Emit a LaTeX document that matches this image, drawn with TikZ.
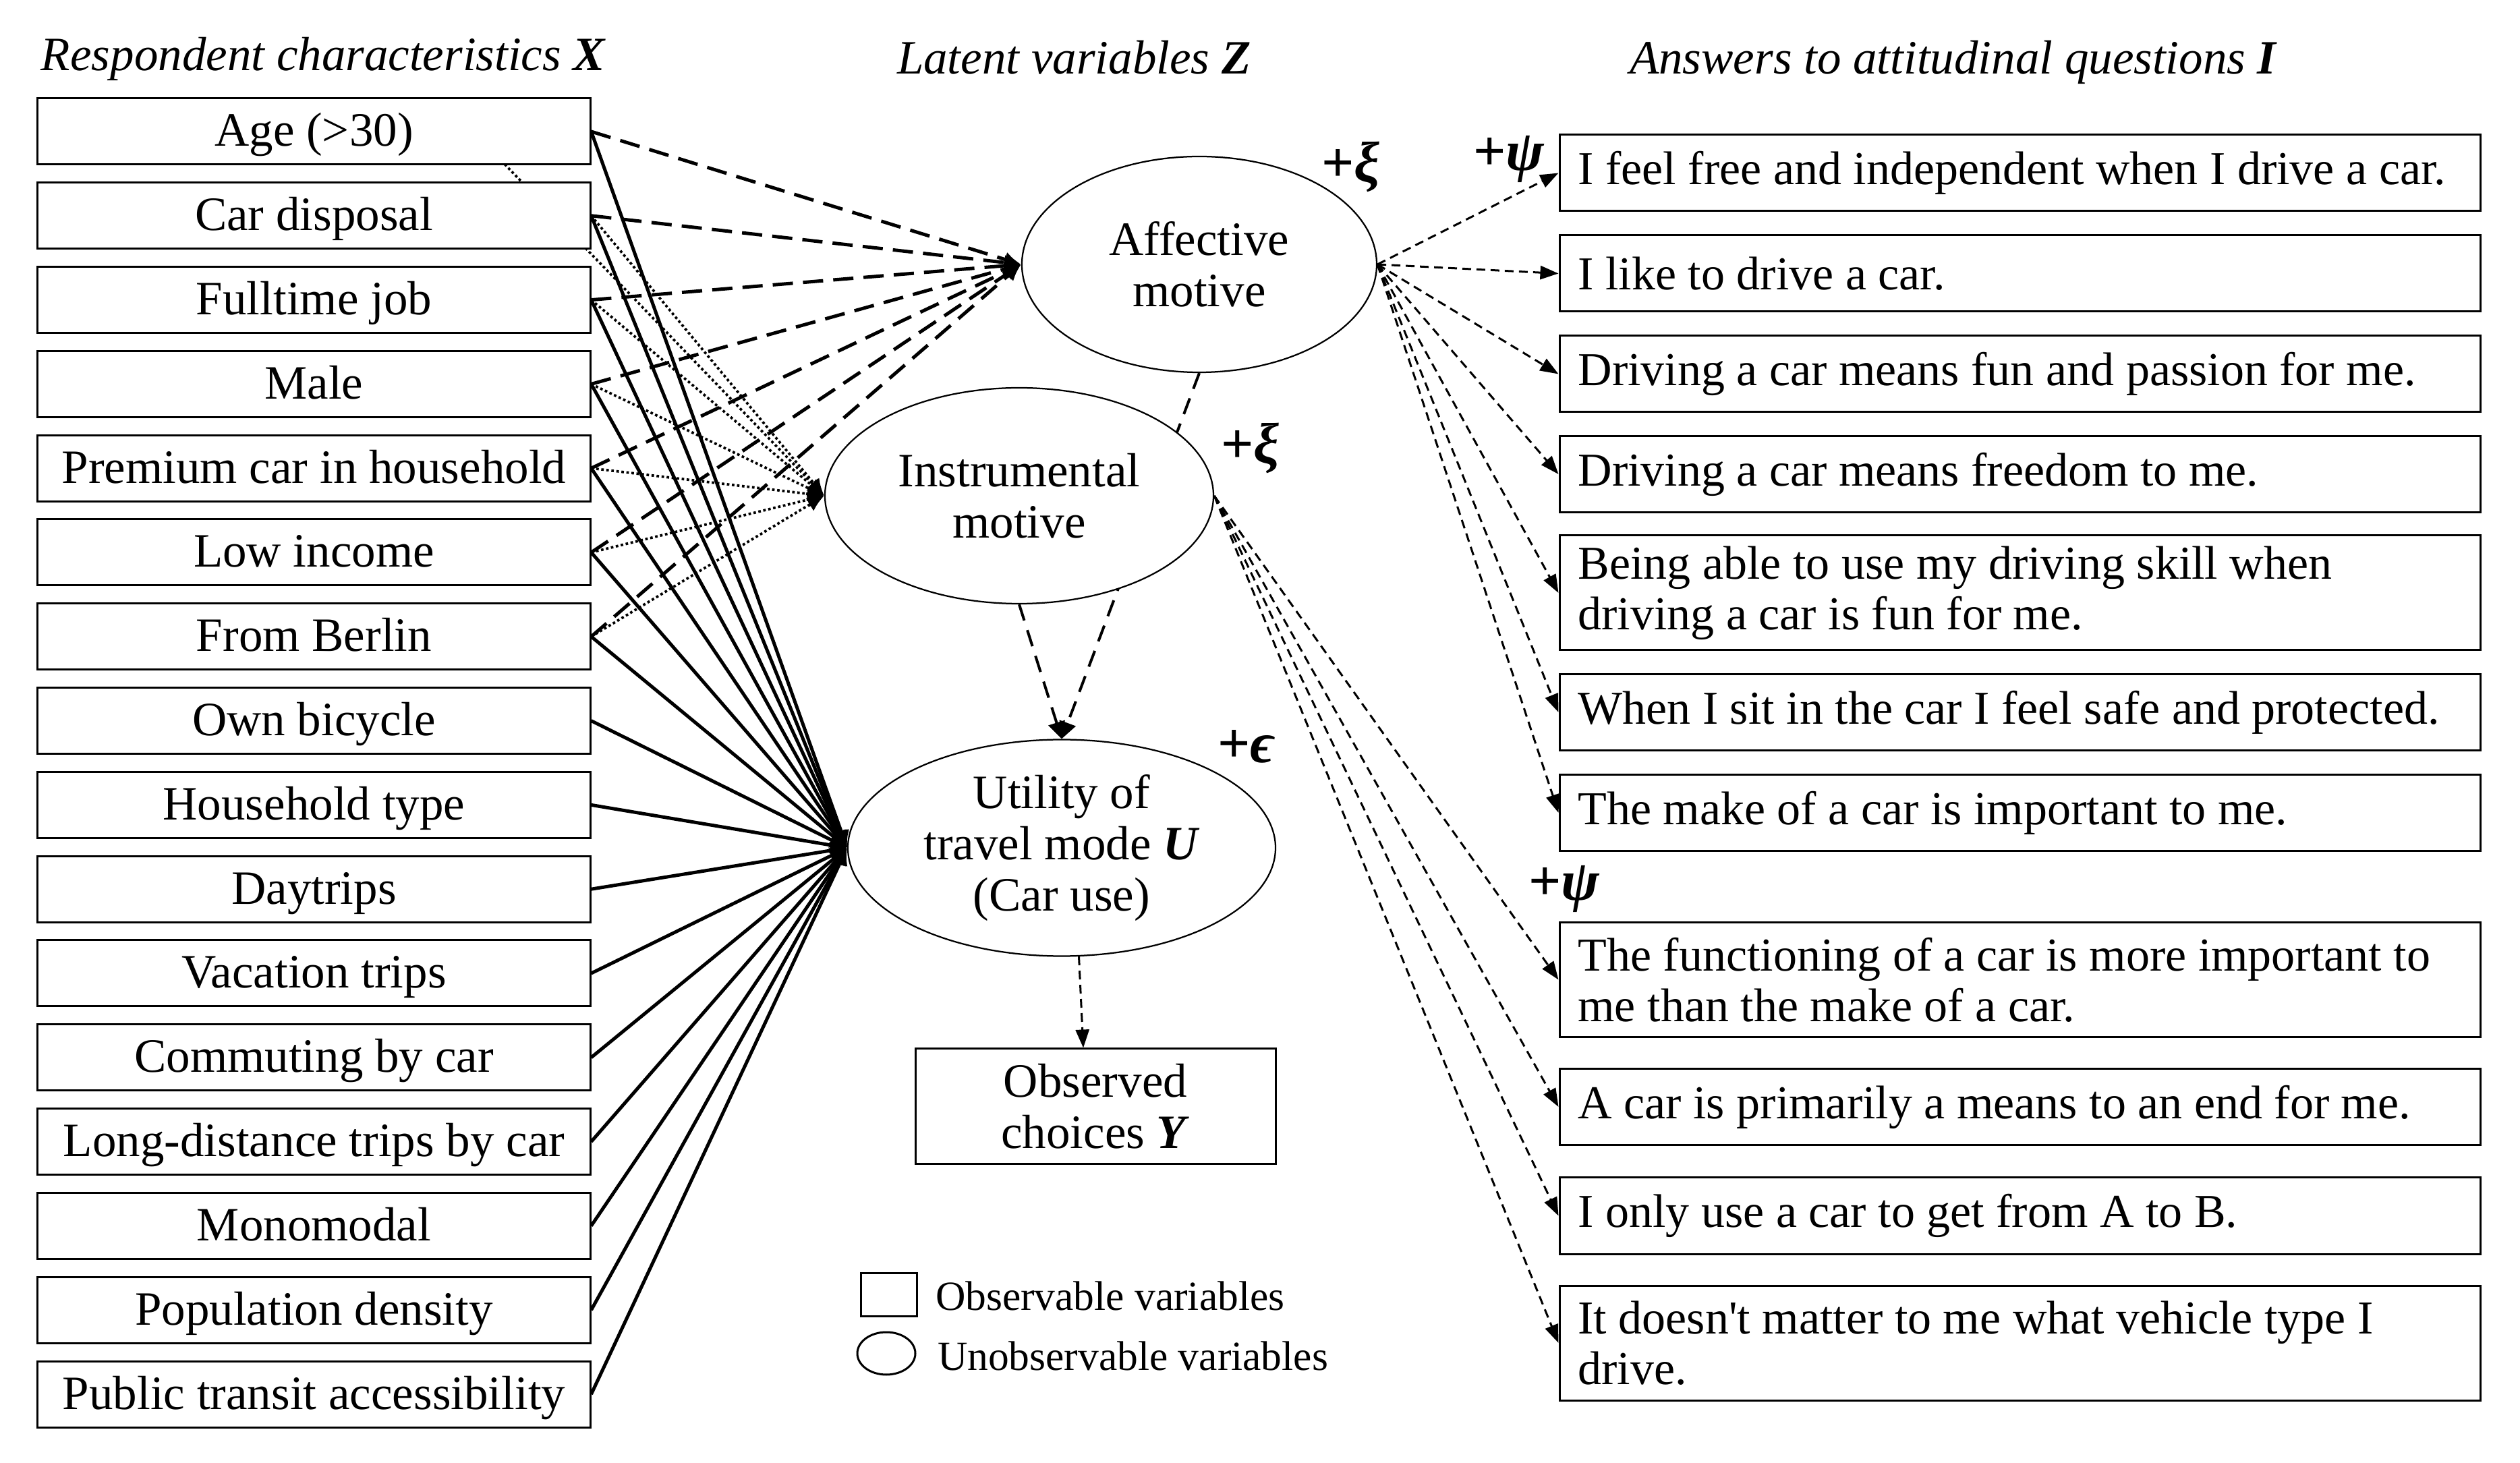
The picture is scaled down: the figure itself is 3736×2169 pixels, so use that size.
\documentclass[tikz,border=0pt]{standalone}
\usepackage{fontspec}
\setmainfont{Liberation Serif}
\usetikzlibrary{shapes.geometric,arrows.meta,backgrounds,calc}
\newcommand\fsA{\fontsize{14.2pt}{15.2pt}\selectfont}
\newcommand\fsR{\fontsize{14pt}{15pt}\selectfont}
\newcommand\fsL{\fontsize{12.3pt}{14pt}\selectfont}
\newcommand\fsG{\fontsize{17pt}{18pt}\selectfont\bfseries}
\begin{document}
\begin{tikzpicture}[x=0.2pt,y=-0.2pt,
  lbox/.style={draw, line width=0.6pt, fill=white, minimum width=163.8pt, minimum height=19.6pt, inner sep=0pt, text height=11pt, text depth=2.2pt, font=\fsA},
  rbox/.style={draw, line width=0.6pt, fill=white, text width=262pt, inner xsep=5.5pt, inner ysep=0pt, align=flush left, minimum height=22.6pt, font=\fsR},
  rboxtwo/.style={rbox, minimum height=34pt},
  ell/.style={ellipse, draw, line width=0.45pt, fill=white, inner sep=0pt, align=center, font=\fsA},
  ttl/.style={anchor=base west, inner sep=0pt, font=\fsA\itshape},
  glab/.style={anchor=base west, inner sep=0pt, font=\fsG},
  legtxt/.style={anchor=west, inner sep=0pt, font=\fsL},
  dA/.style={line width=1pt, dash pattern=on 6pt off 3pt, -{Latex[length=5pt,width=4.5pt]}},
  dI/.style={line width=0.75pt, dash pattern=on 0.75pt off 0.75pt, -{Latex[length=5pt,width=4.5pt]}},
  sU/.style={line width=1pt, -{Latex[length=5pt,width=5pt]}},
  dM/.style={line width=0.8pt, dash pattern=on 5pt off 3pt, -{Triangle[length=5pt,width=5pt]}},
  dR/.style={line width=0.6pt, dash pattern=on 2.6pt off 1.6pt, -{Triangle[length=5.4pt,width=4pt]}}
]
\useasboundingbox (0,0) rectangle (3736,2169);

% titles
\node[ttl] (t1) at (60,105) {Respondent characteristics \textbf{X}};
\node[ttl] (t2) at (1329,110) {Latent variables \textbf{Z}};
\node[ttl] (t3) at (2415,110) {Answers to attitudinal questions \textbf{I}};

% left boxes
\foreach \t [count=\i] in {Age (>30),Car disposal,Fulltime job,Male,Premium car in household,Low income,From Berlin,Own bicycle,Household type,Daytrips,Vacation trips,Commuting by car,Long-distance trips by car,Monomodal,Population density,Public transit accessibility}
  \node[lbox] (x\i) at (465.5,{195+124.8*(\i-1)}) {\t};

% latent ellipses
\node[ell, minimum width=105.2pt, minimum height=64pt] (aff) at (1778,392) {Affective\\motive};
\node[ell, minimum width=115.2pt, minimum height=64pt] (ins) at (1511,735) {Instrumental\\motive};
\node[ell, minimum width=126.8pt, minimum height=64.2pt] (uti) at (1574,1257) {Utility of\\travel mode \textbf{\textit{U}}\\(Car use)};
\node[draw, line width=0.6pt, fill=white, minimum width=106.8pt, minimum height=34pt, inner sep=0pt, align=center, font=\fsA] (obs) at (1624,1640) {Observed\\choices \textbf{\textit{Y}}};

% error labels
\node[glab] (gx1) at (1958,270) {+\textit{ξ}};
\node[glab] (gx2) at (1809,687) {+\textit{ξ}};
\node[glab] (ge) at (1804,1131) {+\textit{ϵ}};
\node[glab] (gp1) at (2183,253) {+\textit{ψ}};
\node[glab] (gp2) at (2265,1335) {+\textit{ψ}};

% right boxes
\node[rbox] (r1) at (2994.5,256.5) {I feel free and independent when I drive a car.};
\node[rbox] (r2) at (2994.5,405.5) {I like to drive a car.};
\node[rbox] (r3) at (2994.5,554.5) {Driving a car means fun and passion for me.};
\node[rbox] (r4) at (2994.5,703) {Driving a car means freedom to me.};
\node[rboxtwo] (r5) at (2994.5,879) {Being able to use my driving skill when\\driving a car is fun for me.};
\node[rbox] (r6) at (2994.5,1056) {When I sit in the car I feel safe and protected.};
\node[rbox] (r7) at (2994.5,1205) {The make of a car is important to me.};
\node[rboxtwo] (r8) at (2994.5,1452.5) {The functioning of a car is more important to\\me than the make of a car.};
\node[rbox] (r9) at (2994.5,1641) {A car is primarily a means to an end for me.};
\node[rbox] (r10) at (2994.5,1802.5) {I only use a car to get from A to B.};
\node[rboxtwo] (r11) at (2994.5,1991) {It doesn\textquotesingle t matter to me what vehicle type I\\drive.};

% legend
\node[draw, line width=0.6pt, minimum width=16.6pt, minimum height=12.8pt, inner sep=0pt] (lsq) at (1317.5,1919) {};
\node[ellipse, draw, line width=0.6pt, minimum width=17.2pt, minimum height=12.6pt, inner sep=0pt] (lci) at (1314,2006.5) {};
\node[legtxt] (lt1) at (1386,1921) {Observable variables};
\node[legtxt] (lt2) at (1389,2010) {Unobservable variables};

% connectors
\begin{scope}[on background layer]
  \foreach \i in {1,...,7} \draw[dA] (x\i.east) -- (aff.west);
  \coordinate (agehid) at ($(x1.east)+(-175,0)$);
  \draw[dI] (agehid) -- (ins.west);
  \foreach \i in {2,...,7} \draw[dI] (x\i.east) -- (ins.west);
  \foreach \i in {1,...,16} \draw[sU] (x\i.east) -- (uti.west);
  \draw[dM] (aff.south) -- (uti.north);
  \draw[dM] (ins.south) -- (uti.north);
  \draw[dR] (uti.-81) -- ([xshift=-3.6pt]obs.north);
  \foreach \i in {1,...,7} \draw[dR] (aff.east) -- (r\i.west);
  \foreach \i in {8,...,11} \draw[dR] (ins.east) -- (r\i.west);
\end{scope}
\end{tikzpicture}
\end{document}
